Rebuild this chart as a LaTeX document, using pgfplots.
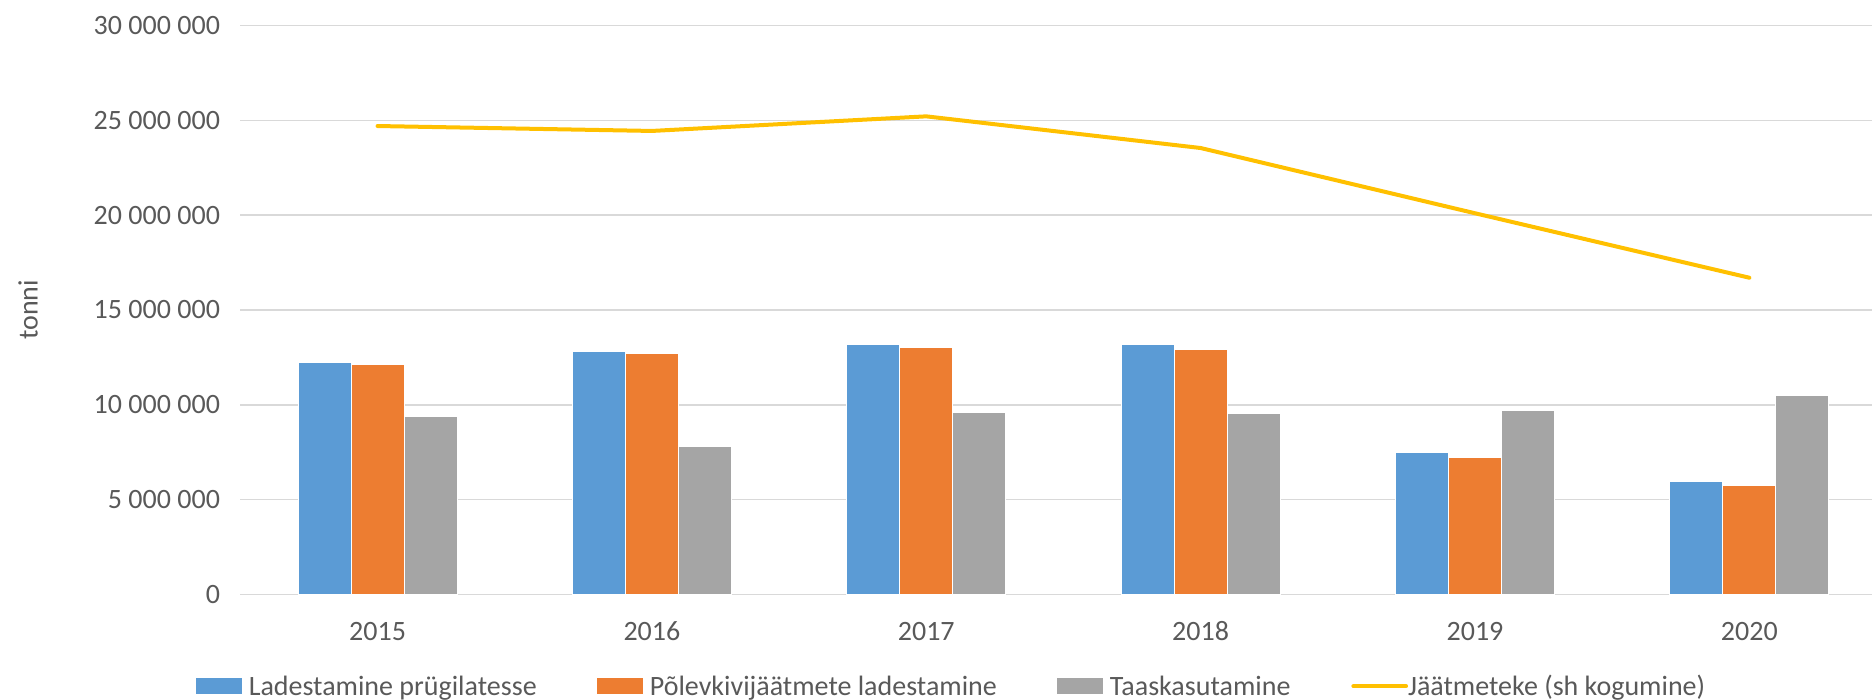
\documentclass[border=0pt]{standalone}
\usepackage{fontspec}
\setmainfont{Carlito}
\usepackage{pgfplots}
\pgfplotsset{compat=1.18}
\definecolor{cblue}{HTML}{5B9BD5}
\definecolor{corange}{HTML}{ED7D31}
\definecolor{cgray}{HTML}{A5A5A5}
\definecolor{cyellow}{HTML}{FFC000}
\definecolor{ctext}{HTML}{595959}
\definecolor{cgrid}{HTML}{D9D9D9}
\newcommand{\lfont}{\fontsize{14bp}{16bp}\selectfont}
\begin{document}
\begin{tikzpicture}
\begin{axis}[
  scale only axis, width=815.6bp, height=284.4bp,
  at={(0,0)}, anchor=south west,
  xmin=-0.5, xmax=5.447, ymin=0, ymax=30000000,
  xtick={0,1,2,3,4,5}, xticklabels={2015,2016,2017,2018,2019,2020},
  ytick={0,5000000,10000000,15000000,20000000,25000000,30000000},
  yticklabels={0,5 000 000,10 000 000,15 000 000,20 000 000,25 000 000,30 000 000},
  scaled y ticks=false,
  ymajorgrids, grid style={draw=cgrid, line width=0.7bp},
  axis line style={draw=none},
  major tick length=0pt,
  tick label style={font=\lfont, text=ctext},
  xticklabel style={inner sep=0pt, anchor=north, yshift=-13.5bp},
  yticklabel style={inner sep=0pt, anchor=east, xshift=-10bp},
  ylabel={tonni},
  ylabel style={at={(axis description cs:-0.13015,0.5)}, anchor=center, font=\lfont, text=ctext, inner sep=0pt},
  legend columns=4,
  legend cell align=left,
  legend style={at={(axis description cs:0,0)}, anchor=west, xshift=-22.15bp, yshift=-45.85bp,
    draw=none, fill=none, inner sep=0pt, outer sep=0pt, row sep=0pt, column sep=0pt,
    font=\lfont, text=ctext,
    nodes={inner sep=0pt, outer sep=0pt, text height=9bp, text depth=0pt}},
]
\addplot[ybar, bar width=26.5bp, bar shift=-26.5bp, fill=cblue, draw=white, line width=0.5bp,
  legend image code/.code={\fill[cblue] (0bp,-3.85bp) rectangle (22.35bp,3.85bp); \path (25.85bp,0bp);}]
  coordinates {(0,12220000) (1,12830000) (2,13200000) (3,13200000) (4,7490000) (5,5980000)};
\addlegendentry{\makebox[174.15bp][l]{Ladestamine prügilatesse}}
\addplot[ybar, bar width=26.5bp, bar shift=0bp, fill=corange, draw=white, line width=0.5bp,
  legend image code/.code={\fill[corange] (0bp,-3.85bp) rectangle (22.35bp,3.85bp); \path (25.85bp,0bp);}]
  coordinates {(0,12100000) (1,12730000) (2,13000000) (3,12900000) (4,7200000) (5,5760000)};
\addlegendentry{\makebox[203.65bp][l]{Põlevkivijäätmete ladestamine}}
\addplot[ybar, bar width=26.5bp, bar shift=26.5bp, fill=cgray, draw=white, line width=0.5bp,
  legend image code/.code={\fill[cgray] (0bp,-3.85bp) rectangle (22.35bp,3.85bp); \path (25.85bp,0bp);}]
  coordinates {(0,9380000) (1,7820000) (2,9600000) (3,9550000) (4,9680000) (5,10510000)};
\addlegendentry{\makebox[120.65bp][l]{Taaskasutamine}}
\addplot[sharp plot, draw=cyellow, line width=2bp, line cap=round, line join=round, mark=none,
  legend image code/.code={\draw[cyellow, line width=2bp, line cap=round] (1bp,0bp) -- (23.85bp,0bp); \path (0bp,0bp) -- (26.35bp,0bp);}]
  coordinates {(0,24700000) (1,24440000) (2,25210000) (3,23540000) (4,20100000) (5,16700000)};
\addlegendentry{Jäätmeteke (sh kogumine)}
\end{axis}
\pgfresetboundingbox
\path[use as bounding box] (-120.15bp,-52.35bp) rectangle (815.6bp,297.15bp);
\end{tikzpicture}
\end{document}
